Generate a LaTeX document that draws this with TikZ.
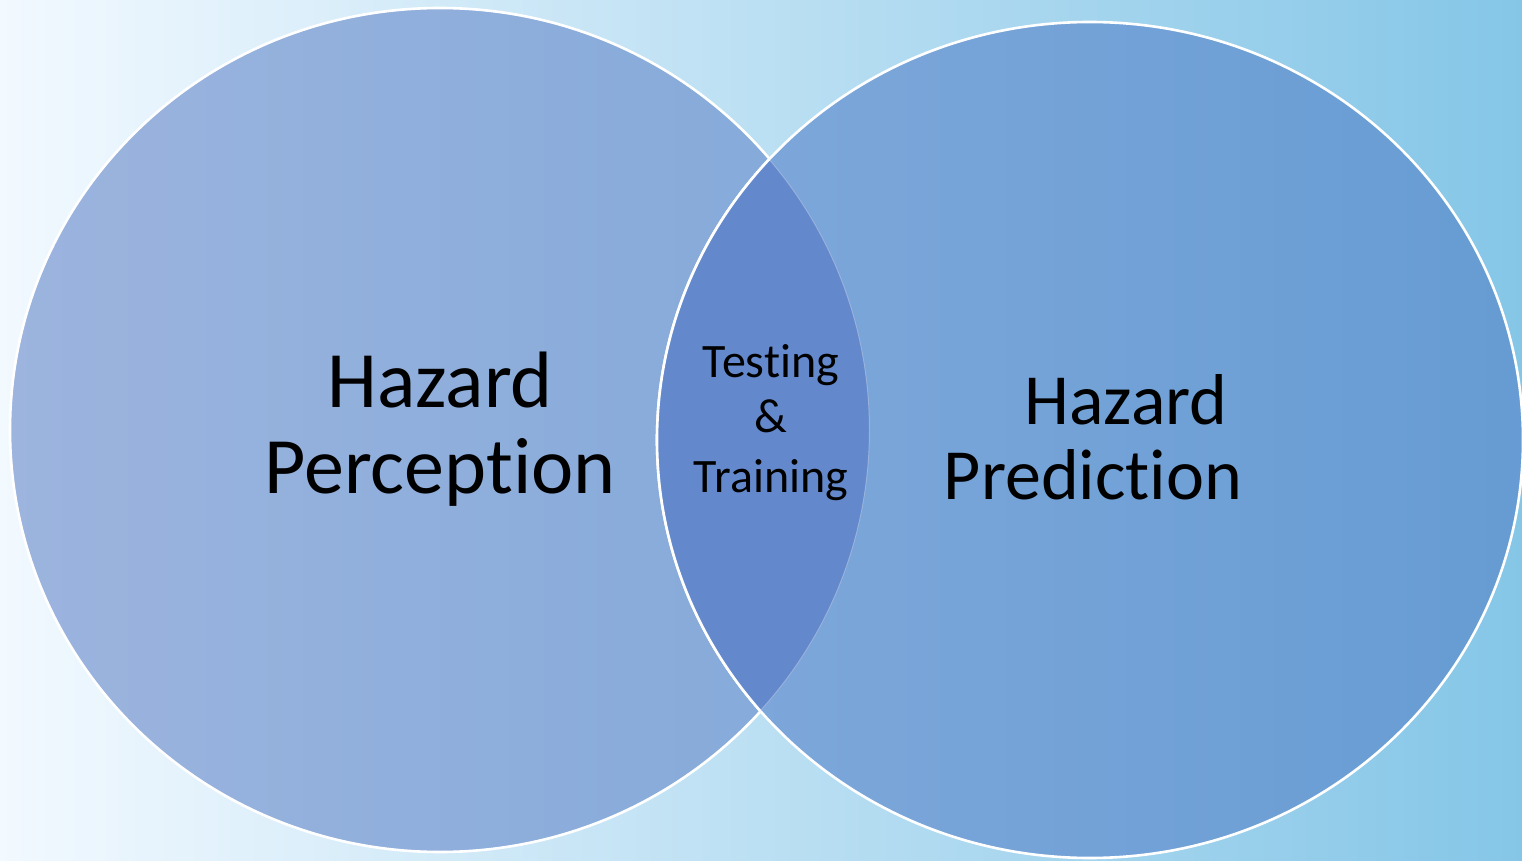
\documentclass[tikz,border=0pt]{standalone}
\usepackage{fontspec}
\setmainfont{Carlito}[Ligatures={NoCommon}]
\definecolor{bgleft}{RGB}{242,249,255}
\definecolor{bgmid}{RGB}{203,231,246}
\definecolor{bgright}{RGB}{133,198,231}
\definecolor{percleft}{RGB}{156,180,222}
\definecolor{percright}{RGB}{131,169,217}
\definecolor{predleft}{RGB}{128,168,219}
\definecolor{predright}{RGB}{102,156,211}
\definecolor{lens}{RGB}{99,137,204}
\tikzset{
  bigtext/.style={font=\fontsize{40}{44}\selectfont, anchor=base},
  midtext/.style={font=\fontsize{36}{40}\selectfont, anchor=base},
  smalltext/.style={font=\fontsize{24}{28}\selectfont, anchor=base},
  rim/.style={draw=white, line width=1.3pt}
}
\begin{document}
\begin{tikzpicture}[x=0.5pt,y=-0.5pt]
% Background
\useasboundingbox (0,0) rectangle (1522,861);
\shade[left color=bgleft, middle color=bgmid, right color=bgright] (0,0) rectangle (1522,861);
\coordinate (left-set) at (440,430);
\coordinate (right-set) at (1090,440);
% Left set
\shadedraw[left color=percleft, right color=percright, rim] (left-set) ellipse [x radius=430, y radius=422];
% Right set
\shadedraw[left color=predleft, right color=predright, rim] (right-set) ellipse [x radius=433, y radius=418];
% Overlap
\begin{scope}
\clip (left-set) ellipse [x radius=430, y radius=422];
\fill[lens] (right-set) ellipse [x radius=433, y radius=418];
\draw[white, opacity=.35, line width=1pt] (left-set) ellipse [x radius=430, y radius=422];
\draw[rim] (right-set) ellipse [x radius=433, y radius=418];
\end{scope}
% Labels
\node[bigtext] (hazard-l) at (440,408) {Hazard};
\node[bigtext] (perception) at (440,494) {Perception};
\node[midtext] (hazard-r) at (1126,424) {Hazard};
\node[midtext] (prediction) at (1093,499) {Prediction};
\node[smalltext] (testing) at (771,378) {Testing};
\node[smalltext] (amp) at (771,432) {\&};
\node[smalltext] (training) at (771,492) {Training};
\end{tikzpicture}
\end{document}
